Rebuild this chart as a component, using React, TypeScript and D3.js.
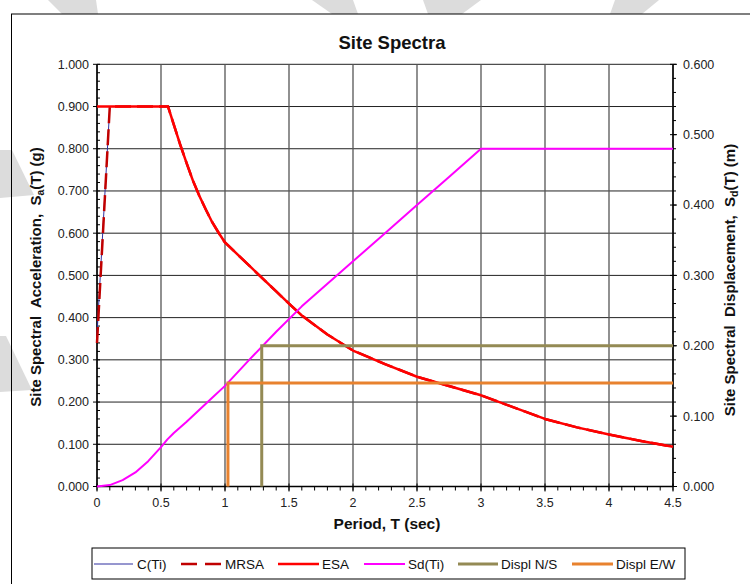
import React from 'react';
import * as d3 from 'd3';

// ---- data ----
const esaT = [0, 0.555, 0.6, 0.65, 0.7, 0.75, 0.8, 0.85, 0.9, 0.95, 1.0, 1.2, 1.4, 1.5, 1.6, 1.8, 2.0, 2.25, 2.5, 2.75, 3.0, 3.25, 3.5, 3.75, 4.0, 4.25, 4.5];
const esaSa = [0.9, 0.9, 0.857, 0.81, 0.766, 0.724, 0.688, 0.656, 0.626, 0.601, 0.578, 0.52, 0.462, 0.433, 0.405, 0.36, 0.322, 0.29, 0.26, 0.238, 0.216, 0.188, 0.16, 0.14, 0.123, 0.108, 0.094];
const cRiseT = [0, 0.1];
const cRiseSa = [0.36, 0.9];
const mrsaRiseT = [0, 0.1];
const mrsaRiseSa = [0.34, 0.9];
const sdT = [0, 0.1, 0.2, 0.3, 0.4, 0.5, 0.55, 0.6, 0.7, 0.8, 0.9, 1.0, 1.2, 1.4, 1.6, 1.8, 2.0, 2.25, 2.5, 2.75, 3.0, 4.5];
const sdM = [0, 0.002, 0.009, 0.02, 0.036, 0.056, 0.067, 0.076, 0.092, 0.109, 0.126, 0.143, 0.182, 0.22, 0.256, 0.288, 0.32, 0.36, 0.4, 0.44, 0.48, 0.48];
const dispNST = [1.287, 1.287, 4.5];
const dispNSm = [0, 0.2, 0.2];
const dispEWT = [1.023, 1.023, 4.5];
const dispEWm = [0, 0.147, 0.147];
const xTicks = [0, 0.5, 1, 1.5, 2, 2.5, 3, 3.5, 4, 4.5];
const yLeftTicks = [0, 0.1, 0.2, 0.3, 0.4, 0.5, 0.6, 0.7, 0.8, 0.9, 1.0];
const yRightTicks = [0, 0.1, 0.2, 0.3, 0.4, 0.5, 0.6];
const legendNames = ['C(Ti)', 'MRSA', 'ESA', 'Sd(Ti)', 'Displ N/S', 'Displ E/W'];

const FONT = '"Liberation Sans", Arial, sans-serif';
const X0 = 97, X1 = 673, YT = 64.3, YB = 486.5;

const zip = (a: number[], b: number[]) => a.map((v, i) => [v, b[i]] as [number, number]);

export default function App() {
  const x = d3.scaleLinear().domain([0, 4.5]).range([X0, X1]);
  const yL = d3.scaleLinear().domain([0, 1]).range([YB, YT]);
  const yR = d3.scaleLinear().domain([0, 0.6]).range([YB, YT]);
  const lineL = d3.line<[number, number]>().x(d => x(d[0])).y(d => yL(d[1]));
  const lineR = d3.line<[number, number]>().x(d => x(d[0])).y(d => yR(d[1]));

  const esa = zip(esaT, esaSa);
  const esaAfter = esa.filter(d => d[0] >= 0.1);
  const cData = [...zip(cRiseT, cRiseSa), ...esaAfter];
  const mrsaData = [...zip(mrsaRiseT, mrsaRiseSa), ...esaAfter];

  const minorL = d3.range(0, 1.0001, 0.02);
  const minorR = d3.range(0, 0.6001, 0.02);
  const minorX = d3.range(0, 4.5001, 0.1);

  const watermark = [
    [[48, 0], [96, 0], [98, 14], [62, 14]],
    [[312, 0], [353, 0], [358, 14], [332, 14]],
    [[423, 0], [481, 0], [462, 14], [428, 14]],
    [[615, 0], [659, 0], [642, 14], [610, 14]],
    [[0, 150], [12, 150], [34, 195], [0, 198]],
    [[0, 336], [6, 336], [32, 390], [0, 392]],
  ];

  const legendItems = [
    { name: legendNames[0], x1: 94, x2: 133, tx: 137, color: '#2f2f9f', w: 1, dash: '' },
    { name: legendNames[1], x1: 181, x2: 222, tx: 225, color: '#c00000', w: 2.5, dash: '16,8' },
    { name: legendNames[2], x1: 278, x2: 319, tx: 322, color: '#ff0000', w: 2.5, dash: '' },
    { name: legendNames[3], x1: 364, x2: 405, tx: 408, color: '#ff00ff', w: 2, dash: '' },
    { name: legendNames[4], x1: 458, x2: 498, tx: 501, color: '#948a54', w: 3, dash: '' },
    { name: legendNames[5], x1: 572, x2: 613, tx: 616, color: '#e8822e', w: 3, dash: '' },
  ];

  const pre = { whiteSpace: 'pre' as const };

  return (
    <svg width={750} height={584} style={{ position: 'absolute', left: 0, top: 0, display: 'block' }} fontFamily={FONT}>
      <rect x={0} y={0} width={750} height={584} fill="#fff" />
      {watermark.map((p, i) => (
        <polygon key={i} points={p.map(q => q.join(',')).join(' ')} fill="#dcdcdc" />
      ))}
      <rect x={11.5} y={14} width={760} height={600} fill="none" stroke="#000" strokeWidth={1} />
      <rect x={X0} y={YT} width={X1 - X0} height={YB - YT} fill="#fff" />

      {/* gridlines */}
      {yLeftTicks.map(t => (
        <line key={'gy' + t} x1={X0} x2={X1} y1={yL(t)} y2={yL(t)} stroke="#222" strokeWidth={1} />
      ))}
      {xTicks.map(t => (
        <line key={'gx' + t} x1={x(t)} x2={x(t)} y1={YT} y2={YB} stroke="#555" strokeWidth={1.3} />
      ))}

      {/* axes */}
      <line x1={X0} x2={X0} y1={YT} y2={YB} stroke="#000" strokeWidth={1.5} />
      <line x1={X1} x2={X1} y1={YT} y2={YB} stroke="#000" strokeWidth={1.5} />
      <line x1={X0} x2={X1} y1={YB} y2={YB} stroke="#000" strokeWidth={1.5} />
      {minorL.map((t, i) => (
        <line key={'ml' + i} x1={X0} x2={X0 + 3} y1={yL(t)} y2={yL(t)} stroke="#000" />
      ))}
      {yLeftTicks.map(t => (
        <g key={'tl' + t}>
          <line x1={X0 - 4} x2={X0} y1={yL(t)} y2={yL(t)} stroke="#000" />
          <text x={89} y={yL(t)} dy="0.35em" textAnchor="end" fontSize={12.5} fill="#222">{d3.format('.3f')(t)}</text>
        </g>
      ))}
      {minorR.map((t, i) => (
        <line key={'mr' + i} x1={X1} x2={X1 + 3} y1={yR(t)} y2={yR(t)} stroke="#000" />
      ))}
      {yRightTicks.map(t => (
        <g key={'tr' + t}>
          <line x1={X1 - 3} x2={X1 + 4} y1={yR(t)} y2={yR(t)} stroke="#000" />
          <text x={683} y={yR(t)} dy="0.35em" textAnchor="start" fontSize={12.5} fill="#222">{d3.format('.3f')(t)}</text>
        </g>
      ))}
      {minorX.map((t, i) => (
        <line key={'mx' + i} x1={x(t)} x2={x(t)} y1={YB} y2={YB + 4} stroke="#000" />
      ))}
      {xTicks.map(t => (
        <g key={'tx' + t}>
          <line x1={x(t)} x2={x(t)} y1={YB - 3} y2={YB + 5} stroke="#000" />
          <text x={x(t)} y={507} textAnchor="middle" fontSize={12.5} fill="#222">{String(t)}</text>
        </g>
      ))}

      {/* series */}
      <path d={lineL(cData) || ''} fill="none" stroke="#2f2f9f" strokeWidth={1} />
      <path d={lineL(mrsaData) || ''} fill="none" stroke="#c00000" strokeWidth={2.5} strokeDasharray="16,6" />
      <path d={lineL(esa) || ''} fill="none" stroke="#ff0000" strokeWidth={2.5} strokeLinejoin="round" />
      <path d={lineR(zip(sdT, sdM)) || ''} fill="none" stroke="#ff00ff" strokeWidth={2} strokeLinejoin="round" />
      <path d={lineR(zip(dispNST, dispNSm)) || ''} fill="none" stroke="#948a54" strokeWidth={3} />
      <path d={lineR(zip(dispEWT, dispEWm)) || ''} fill="none" stroke="#e8822e" strokeWidth={3} />

      {/* titles */}
      <text x={392} y={49} textAnchor="middle" fontSize={18.5} fontWeight="bold" fill="#111">Site Spectra</text>
      <text x={387} y={529} textAnchor="middle" fontSize={15.5} fontWeight="bold" fill="#111">Period, T (sec)</text>
      <text transform={`translate(36,277) rotate(-90)`} textAnchor="middle" dy="0.35em" fontSize={15} fontWeight="bold" fill="#111" style={pre}>
        {'Site Spectral  Acceleration,  S'}<tspan fontSize={10.5} dy="3">a</tspan><tspan dy="-3">(T) (g)</tspan>
      </text>
      <text transform={`translate(730,280) rotate(-90)`} textAnchor="middle" dy="0.35em" fontSize={15} fontWeight="bold" fill="#111" style={pre}>
        {'Site Spectral  Displacement,  S'}<tspan fontSize={10.5} dy="3">d</tspan><tspan dy="-3">(T) (m)</tspan>
      </text>

      {/* legend */}
      <rect x={92} y={548} width={593} height={31} fill="#fff" stroke="#000" strokeWidth={1} />
      {legendItems.map(it => (
        <g key={it.name}>
          <line x1={it.x1} x2={it.x2} y1={564} y2={564} stroke={it.color} strokeWidth={it.w} strokeDasharray={it.dash || undefined} />
          <text x={it.tx} y={564} dy="0.35em" fontSize={13.5} fill="#111">{it.name}</text>
        </g>
      ))}
    </svg>
  );
}
